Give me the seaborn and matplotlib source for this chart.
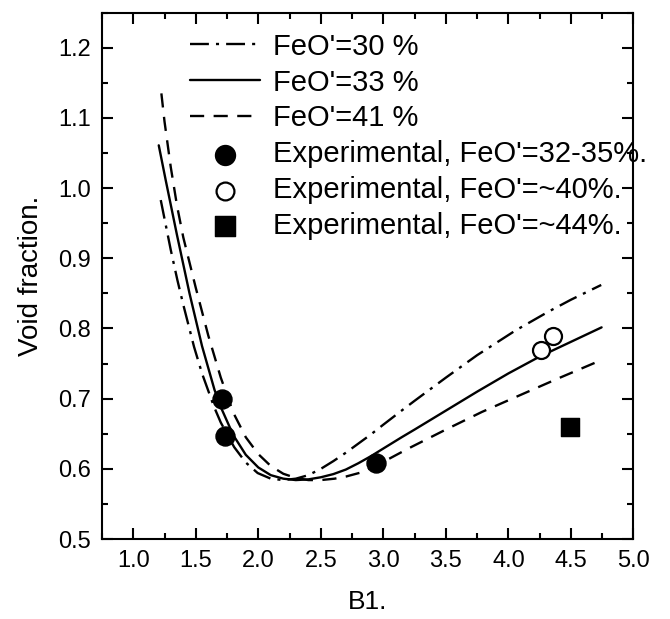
import numpy as np
import pandas as pd
import matplotlib
matplotlib.use("Agg")
import matplotlib.pyplot as plt
from matplotlib.ticker import MultipleLocator, FormatStrFormatter
import seaborn as sns

# Model curves: void fraction vs B1 for three FeO' contents
b1_30 = [1.22, 1.30, 1.353, 1.40, 1.486, 1.55, 1.647, 1.70, 1.807, 1.90, 1.995, 2.10, 2.20,
         2.30, 2.40, 2.50, 2.60, 2.70, 2.80, 2.90, 3.00, 3.146, 3.25, 3.50, 3.75, 4.055,
         4.32, 4.50, 4.742]
vf_30 = [0.983, 0.912, 0.869, 0.834, 0.774, 0.736, 0.688, 0.666, 0.631, 0.609, 0.594, 0.586, 0.584,
         0.586, 0.591, 0.600, 0.611, 0.623, 0.636, 0.649, 0.663, 0.683, 0.697, 0.730, 0.762, 0.797,
         0.824, 0.841, 0.862]

b1_33 = [1.204, 1.26, 1.35, 1.45, 1.55, 1.65, 1.71, 1.80, 1.90, 2.00, 2.10, 2.20, 2.30,
         2.40, 2.50, 2.60, 2.70, 2.80, 2.90, 3.00, 3.146, 3.25, 3.50, 3.75, 4.00, 4.25,
         4.50, 4.745]
vf_33 = [1.061, 1.011, 0.933, 0.850, 0.775, 0.7125, 0.684, 0.648, 0.620, 0.602, 0.591, 0.586, 0.584,
         0.585, 0.588, 0.5925, 0.599, 0.608, 0.618, 0.629, 0.645, 0.656, 0.683, 0.710, 0.736, 0.760,
         0.781, 0.8016]

b1_41 = [1.225, 1.25, 1.30, 1.35, 1.40, 1.50, 1.60, 1.70, 1.80, 1.90, 2.00, 2.10, 2.20,
         2.30, 2.40, 2.50, 2.61, 2.70, 2.825, 3.00, 3.20, 3.50, 3.787, 4.08, 4.40, 4.69]
vf_41 = [1.135, 1.095, 1.030, 0.975, 0.930, 0.858, 0.790, 0.730, 0.680, 0.645, 0.621, 0.604, 0.593,
         0.587, 0.584, 0.584, 0.586, 0.589, 0.595, 0.610, 0.629, 0.656, 0.681, 0.704, 0.729, 0.751]

# Experimental measurements
exp_b1_32_35 = [1.709, 1.735, 2.945]
exp_vf_32_35 = [0.699, 0.647, 0.608]
exp_b1_40 = [4.263, 4.357]
exp_vf_40 = [0.769, 0.790]
exp_b1_44 = [4.491]
exp_vf_44 = [0.659]

labels = ["FeO'=30 %", "FeO'=33 %", "FeO'=41 %",
          "Experimental, FeO'=32-35%.", "Experimental, FeO'=~40%.", "Experimental, FeO'=~44%."]

sns.set_theme(style="ticks")
plt.rcParams['font.family'] = ['Liberation Sans', 'DejaVu Sans']
plt.rcParams.update({
    'axes.linewidth': 1.5,
    'text.color': 'black',
    'axes.labelcolor': 'black',
    'xtick.color': 'black',
    'ytick.color': 'black',
    'axes.edgecolor': 'black',
})

fig = plt.figure(figsize=(6.7, 6.19), dpi=100)
ax = fig.add_axes([0.1522, 0.1292, 0.7933, 0.8503])

lw = 1.7
sns.lineplot(x=b1_30, y=vf_30, ax=ax, color="black", lw=lw, sort=False,
             linestyle=(0, (8, 3, 1.3, 3)), label=labels[0])
sns.lineplot(x=b1_33, y=vf_33, ax=ax, color="black", lw=lw, sort=False,
             linestyle="-", label=labels[1])
sns.lineplot(x=b1_41, y=vf_41, ax=ax, color="black", lw=lw, sort=False,
             linestyle=(0, (6, 4)), label=labels[2])

sns.scatterplot(x=exp_b1_32_35, y=exp_vf_32_35, ax=ax, marker="o", s=185,
                color="black", edgecolor="black", label=labels[3], zorder=5)
sns.scatterplot(x=exp_b1_40, y=exp_vf_40, ax=ax, marker="o", s=150,
                facecolor="white", edgecolor="black", linewidth=1.6, label=labels[4], zorder=5)
sns.scatterplot(x=exp_b1_44, y=exp_vf_44, ax=ax, marker="s", s=170,
                color="black", edgecolor="black", label=labels[5], zorder=5)

ax.set_xlim(0.75, 5.0)
ax.set_ylim(0.5, 1.25)
ax.set_xticks(np.arange(1.0, 5.01, 0.5))
ax.set_yticks(np.arange(0.5, 1.21, 0.1))
ax.xaxis.set_minor_locator(MultipleLocator(0.25))
ax.yaxis.set_minor_locator(MultipleLocator(0.05))
ax.xaxis.set_major_formatter(FormatStrFormatter('%.1f'))
ax.yaxis.set_major_formatter(FormatStrFormatter('%.1f'))
ax.tick_params(which="both", direction="in", top=True, right=True, width=1.5,
               labelsize=17)
ax.tick_params(which="major", length=8, pad=8)
ax.tick_params(which="minor", length=4)
for sp in ax.spines.values():
    sp.set_visible(True)

ax.set_xlabel("B1.", fontsize=19, labelpad=13)
ax.set_ylabel("Void fraction.", fontsize=20, labelpad=10)

leg = ax.legend(loc="upper left", bbox_to_anchor=(0.166, 0.962), frameon=False,
                fontsize=21, handlelength=2.4, handletextpad=0.45, labelspacing=0.27,
                borderaxespad=0, borderpad=0, markerscale=1.05)

fig.savefig("out.png", dpi=100)
